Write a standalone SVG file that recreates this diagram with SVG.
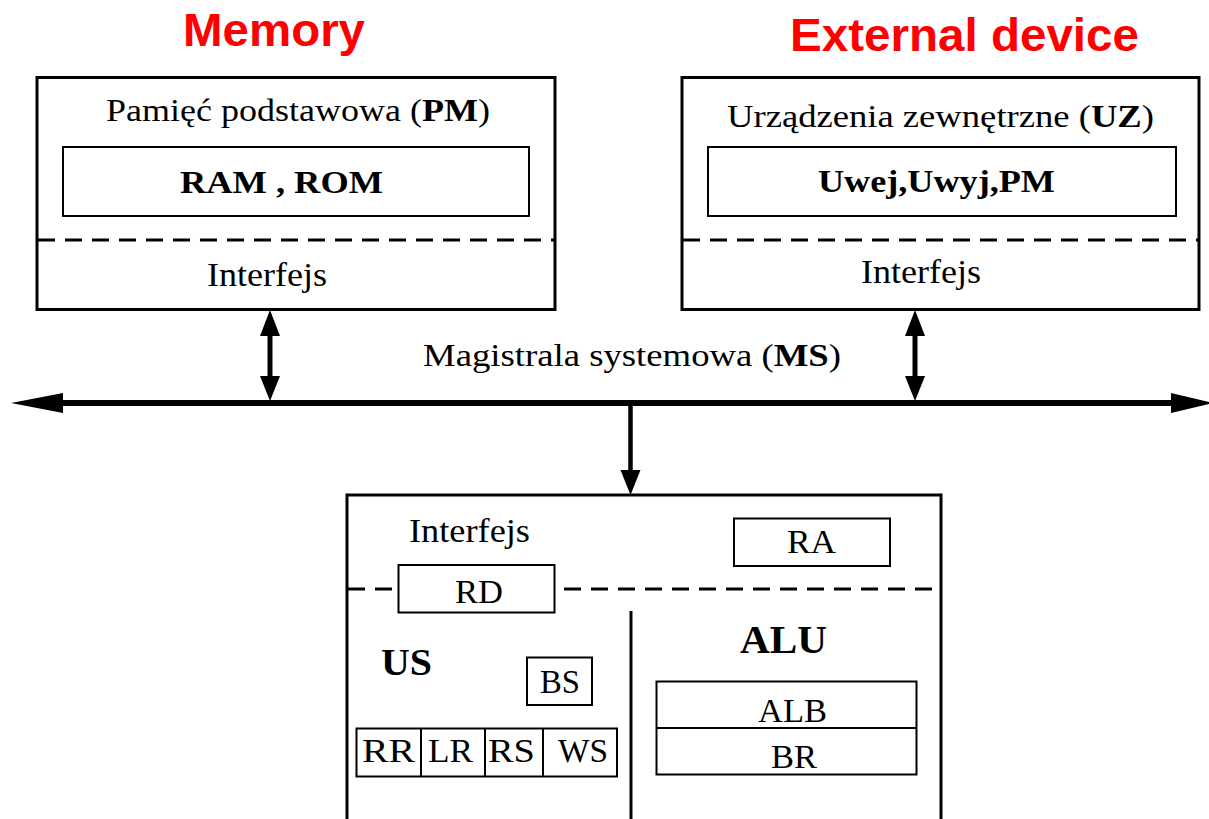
<svg xmlns="http://www.w3.org/2000/svg" width="1209" height="819" viewBox="0 0 1209 819">
  <defs>
    <style>
      .title { font-family: "Liberation Sans", Arial, sans-serif; font-weight: bold; fill: #ff0000; font-size: 46px; }
      .t { font-family: "Liberation Serif", "Times New Roman", serif; fill: #000; }
      .b { font-weight: bold; }
      .box { fill: #fff; stroke: #000; stroke-width: 3; }
      .inner { fill: #fff; stroke: #000; stroke-width: 2; }
      .dash { fill: none; stroke: #000; stroke-width: 3; stroke-dasharray: 17 10; }
      .line { fill: none; stroke: #000; }
      .head { fill: #000; stroke: none; }
    </style>
  </defs>
  <rect width="1209" height="819" fill="#fff"/>

  <!-- headings -->
  <text class="title" x="183" y="46" textLength="182" lengthAdjust="spacingAndGlyphs">Memory</text>
  <text class="title" x="790" y="51" font-size="47" textLength="349" lengthAdjust="spacingAndGlyphs">External device</text>

  <!-- main memory -->
  <g id="pm">
    <rect class="box" x="37" y="77.5" width="518" height="232"/>
    <text class="t" x="106" y="121" font-size="31" textLength="384" lengthAdjust="spacingAndGlyphs">Pamięć podstawowa (<tspan class="b">PM</tspan>)</text>
    <rect class="inner" x="63" y="147" width="466" height="69"/>
    <text class="t b" x="180" y="193" font-size="31" textLength="203" lengthAdjust="spacingAndGlyphs">RAM , ROM</text>
    <line class="dash" x1="38" y1="240" x2="554" y2="240"/>
    <text class="t" x="207" y="286" font-size="33" textLength="120" lengthAdjust="spacingAndGlyphs">Interfejs</text>
  </g>

  <!-- external devices -->
  <g id="uz">
    <rect class="box" x="682" y="77.5" width="517" height="232"/>
    <text class="t" x="727" y="127" font-size="31" textLength="427" lengthAdjust="spacingAndGlyphs">Urządzenia zewnętrzne (<tspan class="b">UZ</tspan>)</text>
    <rect class="inner" x="708" y="147" width="468" height="69"/>
    <text class="t b" x="818" y="192" font-size="31" textLength="237" lengthAdjust="spacingAndGlyphs">Uwej,Uwyj,PM</text>
    <line class="dash" x1="683" y1="240" x2="1198" y2="240"/>
    <text class="t" x="861" y="283" font-size="33" textLength="120" lengthAdjust="spacingAndGlyphs">Interfejs</text>
  </g>

  <!-- system bus and its links -->
  <g id="connectors">
    <text class="t" x="423" y="366" font-size="32" textLength="418" lengthAdjust="spacingAndGlyphs">Magistrala systemowa (<tspan class="b">MS</tspan>)</text>
    <!-- bus -->
    <line class="line" x1="60" y1="403" x2="1175" y2="403" stroke-width="6"/>
    <polygon class="head" points="11,403 63,393 63,413"/>
    <polygon class="head" points="1213,403 1171,393 1171,413"/>
    <!-- memory link -->
    <line class="line" x1="270" y1="330" x2="270" y2="380" stroke-width="5"/>
    <polygon class="head" points="270,310 260,336 280,336"/>
    <polygon class="head" points="270,401 260,376 280,376"/>
    <!-- device link -->
    <line class="line" x1="915" y1="330" x2="915" y2="380" stroke-width="5"/>
    <polygon class="head" points="915,310 905,336 925,336"/>
    <polygon class="head" points="915,401 905,376 925,376"/>
    <!-- processor link -->
    <line class="line" x1="630.5" y1="404" x2="630.5" y2="474" stroke-width="4.5"/>
    <polygon class="head" points="630.5,495 620.5,470 640.5,470"/>
  </g>

  <!-- processor -->
  <g id="cpu">
    <rect class="box" x="347" y="495" width="594" height="340"/>
    <text class="t" x="409" y="542" font-size="33" textLength="121" lengthAdjust="spacingAndGlyphs">Interfejs</text>
    <line class="dash" x1="348" y1="589" x2="940" y2="589"/>
    <line class="line" x1="631" y1="611" x2="631" y2="819" stroke-width="3"/>
  </g>
  <g id="ra">
    <rect class="inner" x="734" y="518.5" width="156" height="47.5"/>
    <text class="t" x="787" y="553" font-size="33" textLength="49" lengthAdjust="spacingAndGlyphs">RA</text>
  </g>
  <g id="rd">
    <rect class="inner" x="398.5" y="565" width="156" height="47.5"/>
    <text class="t" x="455" y="603" font-size="33" textLength="48" lengthAdjust="spacingAndGlyphs">RD</text>
  </g>
  <g id="us">
    <text class="t b" x="381" y="675" font-size="38" textLength="51" lengthAdjust="spacingAndGlyphs">US</text>
  </g>
  <g id="bs">
    <rect class="inner" x="527" y="657.5" width="65" height="47.5"/>
    <text class="t" x="540" y="693" font-size="33" textLength="40" lengthAdjust="spacingAndGlyphs">BS</text>
  </g>
  <g id="registers">
    <rect class="inner" x="356.5" y="728.5" width="260.5" height="48"/>
    <line class="line" x1="421" y1="728.5" x2="421" y2="776.5" stroke-width="2"/>
    <line class="line" x1="485" y1="728.5" x2="485" y2="776.5" stroke-width="2"/>
    <line class="line" x1="543" y1="728.5" x2="543" y2="776.5" stroke-width="2"/>
    <text class="t" x="362" y="762" font-size="33" textLength="53" lengthAdjust="spacingAndGlyphs">RR</text>
    <text class="t" x="428" y="762" font-size="33" textLength="45" lengthAdjust="spacingAndGlyphs">LR</text>
    <text class="t" x="488" y="762" font-size="33" textLength="47" lengthAdjust="spacingAndGlyphs">RS</text>
    <text class="t" x="558" y="762" font-size="33" textLength="50" lengthAdjust="spacingAndGlyphs">WS</text>
  </g>
  <g id="alu">
    <text class="t b" x="740" y="653" font-size="39" textLength="87" lengthAdjust="spacingAndGlyphs">ALU</text>
    <rect class="inner" x="656.5" y="681.5" width="260" height="93"/>
    <line class="line" x1="656.5" y1="728" x2="916.5" y2="728" stroke-width="2"/>
    <text class="t" x="758" y="722" font-size="33" textLength="69" lengthAdjust="spacingAndGlyphs">ALB</text>
    <text class="t" x="771" y="768" font-size="33" textLength="46" lengthAdjust="spacingAndGlyphs">BR</text>
  </g>
</svg>
